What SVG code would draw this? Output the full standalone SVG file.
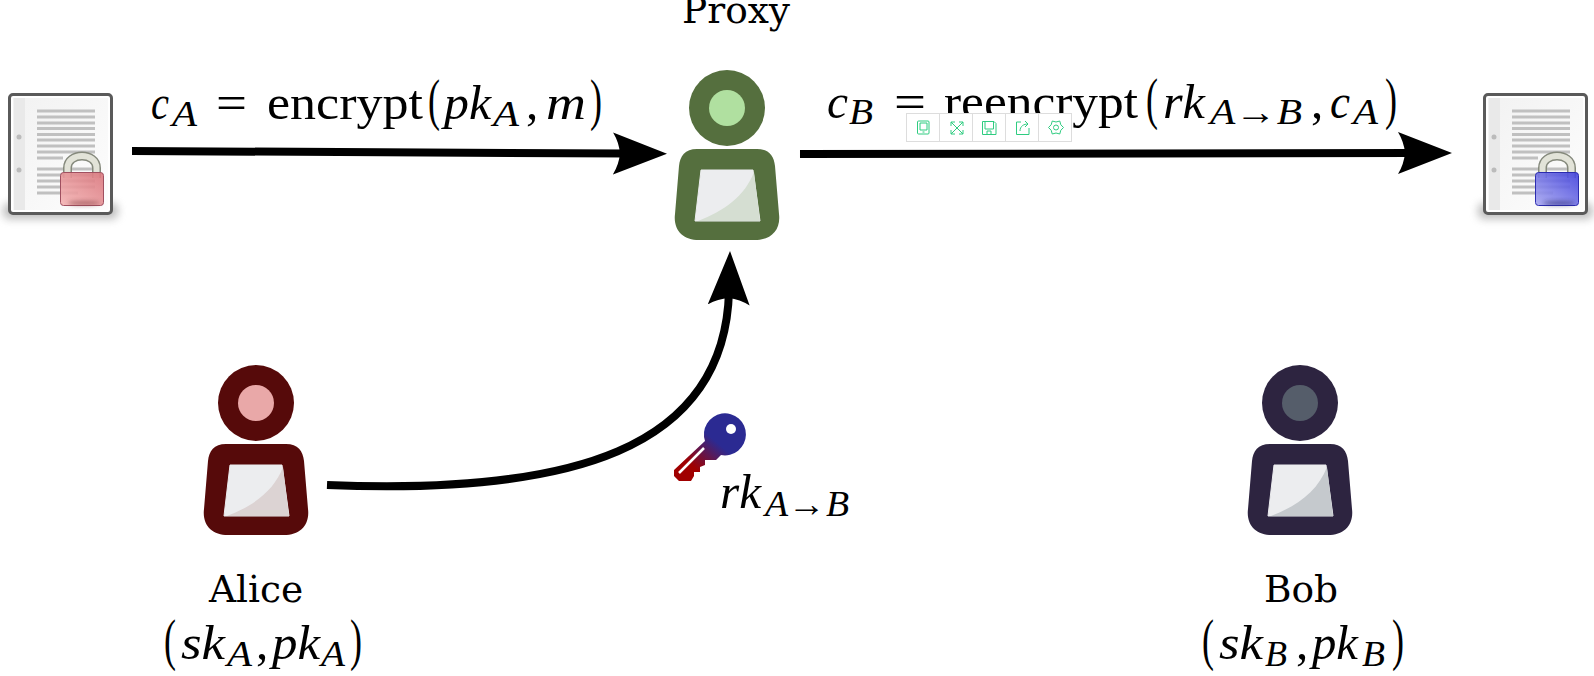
<svg xmlns="http://www.w3.org/2000/svg" width="1594" height="676" viewBox="0 0 1594 676">
<style>
.t{font-family:"DejaVu Serif",serif;font-size:37.500px;fill:#000;text-anchor:middle}
.m{font-family:"Liberation Serif","DejaVu Serif",serif;font-size:49px;fill:#000}
.i{font-style:italic}
.s{font-size:36px;font-style:italic}
.p{font-size:58px}
.c{fill:none;stroke:#000;stroke-width:8}
.ic{fill:none;stroke:#2ecc80;stroke-width:1}
</style>
<defs>
<marker id="a" markerUnits="userSpaceOnUse" markerWidth="56" markerHeight="44" refX="14" refY="21" orient="auto"><path d="M0 0Q6 10 7 21Q6 32 0 42L54 21Z" fill="#000"/></marker>
<linearGradient id="k" gradientUnits="userSpaceOnUse" x1="689" y1="478" x2="723" y2="438"><stop offset=".2" stop-color="#a00000"/><stop offset=".85" stop-color="#2b2a92"/></linearGradient>
<linearGradient id="lr" x1="0" y1="1" x2="1" y2="0"><stop offset="0" stop-color="#f4b4b4"/><stop offset="1" stop-color="#d9757c"/></linearGradient>
<linearGradient id="lb" x1="0" y1="1" x2="1" y2="0"><stop offset="0" stop-color="#a8a8f0"/><stop offset="1" stop-color="#4040dc"/></linearGradient>
<linearGradient id="pg" x1="0" y1="0" x2="1" y2="1"><stop offset="0" stop-color="#f2f2f2"/><stop offset="1" stop-color="#fdfdfd"/></linearGradient>
<filter id="b" x="-20%" y="-60%" width="140%" height="220%"><feGaussianBlur stdDeviation="4"/></filter>
<filter id="b2" x="-20%" y="-100%" width="140%" height="300%"><feGaussianBlur stdDeviation="2"/></filter>
<g id="doc">
<rect x="3" y="203" width="115" height="16" rx="6" fill="#888" opacity=".55" filter="url(#b)"/>
<rect x="9.500" y="94.500" width="102" height="119" rx="3.500" fill="#fff" stroke="#5a5a5a" stroke-width="3"/>
<rect x="13" y="98" width="95" height="112" fill="url(#pg)"/>
<rect x="14" y="98" width="11" height="112" fill="#e9e9e9"/>
<circle cx="19" cy="137" r="2.500" fill="#bbb"/><circle cx="19" cy="170" r="2.500" fill="#bbb"/>
<path d="M37 111H95M37 117H95M37 123H95M37 128.500H95M37 134.500H95M37 140H95M37 146H95M37 152H95M37 158H63M37 169H95M37 175H95M37 181H95M37 187H95M37 193H78" stroke="#c0c0c0" stroke-width="3" fill="none"/>
<path d="M67.500 178V168C67.500 152 96.500 152 96.500 168V178" fill="none" stroke="#85897c" stroke-width="9"/>
<path d="M67.500 178V168C67.500 152 96.500 152 96.500 168V178" fill="none" stroke="#e2e3d8" stroke-width="6"/>
</g>
<g id="u">
<circle r="38" fill="currentColor"/>
<path d="M-30 41H30C42 41 47 48 48 58L52 106C54 122 44 132 28 132H-28C-44 132 -54 122 -52 106L-48 58C-47 48 -42 41 -30 41Z" fill="currentColor"/>
<path d="M-26 62H26L33 113H-32Z" fill="#ecedef" stroke="#ecedef" stroke-width="1" stroke-linejoin="round"/>
</g>
</defs>
<g id="connectors">
<path class="c" d="M132 151L627 153.500" marker-end="url(#a)"/>
<path class="c" d="M800 154L1412 153" marker-end="url(#a)"/>
<path class="c" d="M327 485C570 495 725 450 729 291" marker-end="url(#a)"/>
</g>
<g id="proxy" transform="translate(727 108)" color="#556f3e"><use href="#u"/><circle r="18" fill="#b0e0a0"/><path d="M-29 113C-3 103 18 88 27 64L33 113Z" fill="#d5ded2"/><text class="t" x="9" y="-85">Proxy</text></g>
<g id="alice" transform="translate(256 403)" color="#560a0a"><use href="#u"/><circle r="18" fill="#e9a8a8"/><path d="M-29 113C-3 103 18 88 27 64L33 113Z" fill="#dcd3d3"/><text class="t" x="0" y="199">Alice</text></g>
<g id="bob" transform="translate(1300 403)" color="#2d2440"><use href="#u"/><circle r="18" fill="#555d6a"/><path d="M-29 113C-3 103 18 88 27 64L33 113Z" fill="#c5c9cd"/><text class="t" x="1" y="199">Bob</text></g>
<g id="docA"><use href="#doc"/><rect x="60.500" y="172.500" width="43" height="33" rx="3" fill="url(#lr)" fill-opacity=".9" stroke="#a05060"/><ellipse cx="84" cy="203" rx="16" ry="2" fill="#80383c" opacity=".6" filter="url(#b2)"/></g>
<g id="docB" transform="translate(1475 0)"><use href="#doc"/><rect x="60.500" y="172.500" width="43" height="33" rx="3" fill="url(#lb)" fill-opacity=".9" stroke="#2c2cb0"/><ellipse cx="84" cy="203" rx="16" ry="2" fill="#20206a" opacity=".6" filter="url(#b2)"/></g>
<g id="key" transform="translate(1 0)"><path d="M704 441L673 470V476L678 481H690L693 476V472H699V467L704 465V460H715L720 455A21 21 0 1 0 704 441Z" fill="url(#k)"/><circle cx="730" cy="429" r="5" fill="#fff"/><path d="M678 473L703 448" stroke="#fff" stroke-width="2.500"/></g>
<g id="labels">
<text class="m i" x="151" y="119" textLength="18" lengthAdjust="spacingAndGlyphs">c</text>
<text class="m s" x="172" y="126" textLength="25" lengthAdjust="spacingAndGlyphs">A</text>
<text class="m" x="216" y="119" textLength="31" lengthAdjust="spacingAndGlyphs">=</text>
<text class="m" x="267" y="119" textLength="156" lengthAdjust="spacingAndGlyphs">encrypt</text>
<text class="m p" x="428" y="119" textLength="12" lengthAdjust="spacingAndGlyphs">(</text>
<text class="m i" x="444" y="119" textLength="47" lengthAdjust="spacingAndGlyphs">pk</text>
<text class="m s" x="493" y="126" textLength="26" lengthAdjust="spacingAndGlyphs">A</text>
<text class="m" x="526" y="119">,</text>
<text class="m i" x="546" y="119" textLength="40" lengthAdjust="spacingAndGlyphs">m</text>
<text class="m p" x="590" y="119" textLength="12" lengthAdjust="spacingAndGlyphs">)</text>

<text class="m i" x="827" y="118" textLength="21" lengthAdjust="spacingAndGlyphs">c</text>
<text class="m s" x="849" y="124" textLength="24" lengthAdjust="spacingAndGlyphs">B</text>
<text class="m" x="894" y="118" textLength="32" lengthAdjust="spacingAndGlyphs">=</text>
<text class="m" x="944" y="118" textLength="194" lengthAdjust="spacingAndGlyphs">reencrypt</text>
<text class="m p" x="1146" y="118" textLength="12" lengthAdjust="spacingAndGlyphs">(</text>
<text class="m i" x="1163" y="118" textLength="42" lengthAdjust="spacingAndGlyphs">rk</text>
<text class="m s" x="1210" y="124" textLength="92" lengthAdjust="spacingAndGlyphs">A→B</text>
<text class="m" x="1311" y="118">,</text>
<text class="m i" x="1330" y="118" textLength="20" lengthAdjust="spacingAndGlyphs">c</text>
<text class="m s" x="1353" y="124" textLength="25" lengthAdjust="spacingAndGlyphs">A</text>
<text class="m p" x="1385" y="118" textLength="12" lengthAdjust="spacingAndGlyphs">)</text>

<text class="m i" x="720" y="508" textLength="41" lengthAdjust="spacingAndGlyphs">rk</text>
<text class="m s" x="765" y="516" textLength="84" lengthAdjust="spacingAndGlyphs">A→B</text>

<text class="m p" x="164" y="659" textLength="12" lengthAdjust="spacingAndGlyphs">(</text>
<text class="m i" x="181" y="659" textLength="44" lengthAdjust="spacingAndGlyphs">sk</text>
<text class="m s" x="227" y="666" textLength="25" lengthAdjust="spacingAndGlyphs">A</text>
<text class="m" x="256" y="659">,</text>
<text class="m i" x="272" y="659" textLength="48" lengthAdjust="spacingAndGlyphs">pk</text>
<text class="m s" x="321" y="666" textLength="24" lengthAdjust="spacingAndGlyphs">A</text>
<text class="m p" x="350" y="659" textLength="12" lengthAdjust="spacingAndGlyphs">)</text>

<text class="m p" x="1202" y="659" textLength="12" lengthAdjust="spacingAndGlyphs">(</text>
<text class="m i" x="1219" y="659" textLength="44" lengthAdjust="spacingAndGlyphs">sk</text>
<text class="m s" x="1265" y="666" textLength="22" lengthAdjust="spacingAndGlyphs">B</text>
<text class="m" x="1296" y="659">,</text>
<text class="m i" x="1312" y="659" textLength="46" lengthAdjust="spacingAndGlyphs">pk</text>
<text class="m s" x="1362" y="666" textLength="23" lengthAdjust="spacingAndGlyphs">B</text>
<text class="m p" x="1392" y="659" textLength="12" lengthAdjust="spacingAndGlyphs">)</text>
</g>
<g id="toolbar">
<rect x="906.500" y="113.500" width="165" height="28" fill="#fff" stroke="#ddd"/>
<path d="M939.500 113V141M972.500 113V141M1005.500 113V141M1038.500 113V141" stroke="#ddd"/>
<g class="ic"><rect x="917.500" y="121" width="11.500" height="13" rx="1"/><path d="M920 123H927V130H920ZM922.500 132H924.500"/><path d="M951 122L963 134M963 122L951 134M951 126V122H955M959 122H963V126M951 130V134H955M959 134H963V130"/><path d="M982.500 121.500H994L996 123.500V134.500H982.500ZM985 121.500V129H993.500V121.500M987 134.500V131H991V134.500"/><path d="M1021 122H1016.500V134.500H1029V128M1020 131C1020 126 1024 124 1028 124M1025 121L1028 124L1025 127"/><circle cx="1056" cy="127.500" r="2.500"/><path d="M1063.500 127.500L1060.800 130.250L1059.750 134L1056 133L1052.250 134L1051.200 130.250L1048.500 127.500L1051.200 124.750L1052.250 121L1056 122L1059.750 121L1060.800 124.750Z" stroke-linejoin="round"/></g>
</g>
</svg>
